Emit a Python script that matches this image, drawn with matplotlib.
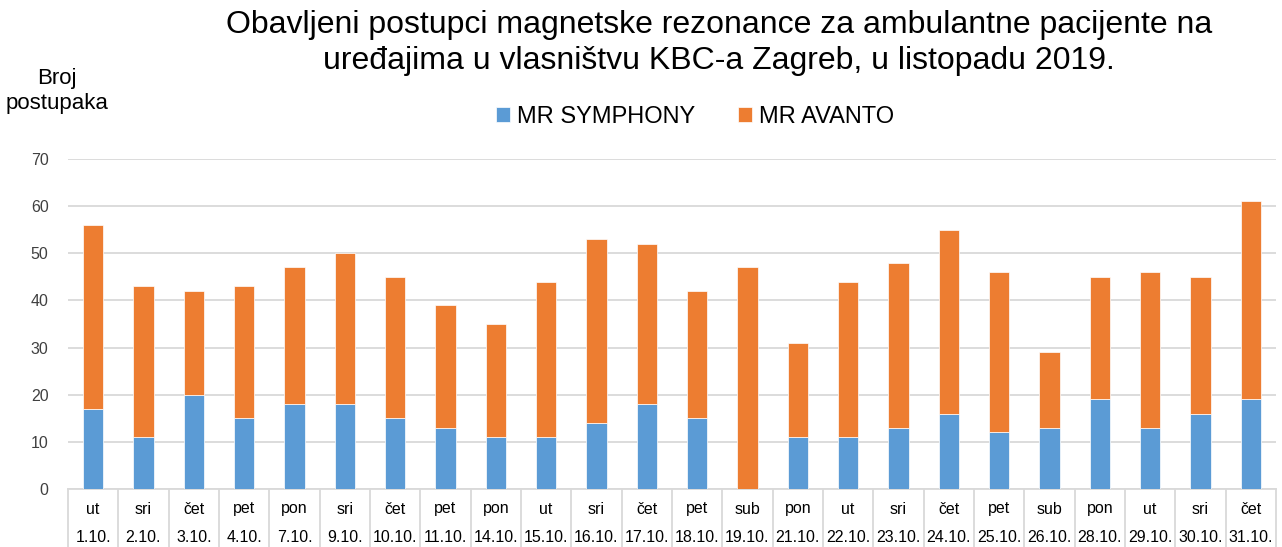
import matplotlib.pyplot as plt
import numpy as np

plt.rcParams['font.family'] = ['Liberation Sans', 'DejaVu Sans']

# Data
days = ['ut', 'sri', 'čet', 'pet', 'pon', 'sri', 'čet', 'pet', 'pon', 'ut', 'sri', 'čet',
        'pet', 'sub', 'pon', 'ut', 'sri', 'čet', 'pet', 'sub', 'pon', 'ut', 'sri', 'čet']
dates = ['1.10.', '2.10.', '3.10.', '4.10.', '7.10.', '9.10.', '10.10.', '11.10.', '14.10.',
         '15.10.', '16.10.', '17.10.', '18.10.', '19.10.', '21.10.', '22.10.', '23.10.',
         '24.10.', '25.10.', '26.10.', '28.10.', '29.10.', '30.10.', '31.10.']
symphony = [17, 11, 20, 15, 18, 18, 15, 13, 11, 11, 14, 18, 15, 0, 11, 11, 13, 16, 12, 13, 19, 13, 16, 19]
avanto = [39, 32, 22, 28, 29, 32, 30, 26, 24, 33, 39, 34, 27, 47, 20, 33, 35, 39, 34, 16, 26, 33, 29, 42]

blue = '#5b9bd5'
orange = '#ed7d31'
grid_col = '#d9d9d9'

fig = plt.figure(figsize=(12.82, 5.47), dpi=100)
ax = fig.add_axes([68 / 1282, 58 / 547, (1276 - 68) / 1282, (489 - 159) / 547])

x = np.arange(len(days))
ax.bar(x, symphony, width=0.4, color=blue, edgecolor='white', linewidth=0.5, label='MR SYMPHONY', zorder=3)
ax.bar(x, avanto, width=0.4, bottom=symphony, color=orange, edgecolor='white', linewidth=0.5,
       label='MR AVANTO', zorder=3)

ax.set_xlim(-0.5, len(days) - 0.5)
ax.set_ylim(0, 70)
ax.set_yticks(range(0, 71, 10))
ax.yaxis.grid(True, color=grid_col, linewidth=1.3, zorder=0)
ax.tick_params(axis='y', length=0, labelsize=11.5, pad=14, colors='#404040')
ax.set_xticks([])
for s in ['top', 'right', 'left']:
    ax.spines[s].set_visible(False)
ax.spines['bottom'].set_color(grid_col)
ax.spines['bottom'].set_linewidth(1.3)

# category table under the axis
trans = ax.get_xaxis_transform()
for b in np.arange(-0.5, len(days), 1.0):
    ax.plot([b, b], [0, -58 / 330], transform=trans, color=grid_col, lw=1.3, clip_on=False)
for i in range(len(days)):
    ax.text(i, -20 / 330, days[i], transform=trans, ha='center', va='center', fontsize=11.5, color='#000000')
    ax.text(i, -48 / 330, dates[i], transform=trans, ha='center', va='center', fontsize=11.5, color='#000000')

fig.text(719 / 1282, 1 - 43 / 547,
         'Obavljeni postupci magnetske rezonance za ambulantne pacijente na\n'
         'uređajima u vlasništvu KBC-a Zagreb, u listopadu 2019.',
         ha='center', va='center', fontsize=23, linespacing=1.22)
fig.text(57 / 1282, 1 - 91 / 547, 'Broj\npostupaka', ha='center', va='center', fontsize=16, linespacing=1.25)

fig.legend(loc='center', bbox_to_anchor=(695 / 1282, 1 - 117 / 547), ncol=2, frameon=False,
           fontsize=17, handlelength=0.6, handleheight=0.6, handletextpad=0.3, columnspacing=1.8)

fig.savefig('out.png', dpi=100)
